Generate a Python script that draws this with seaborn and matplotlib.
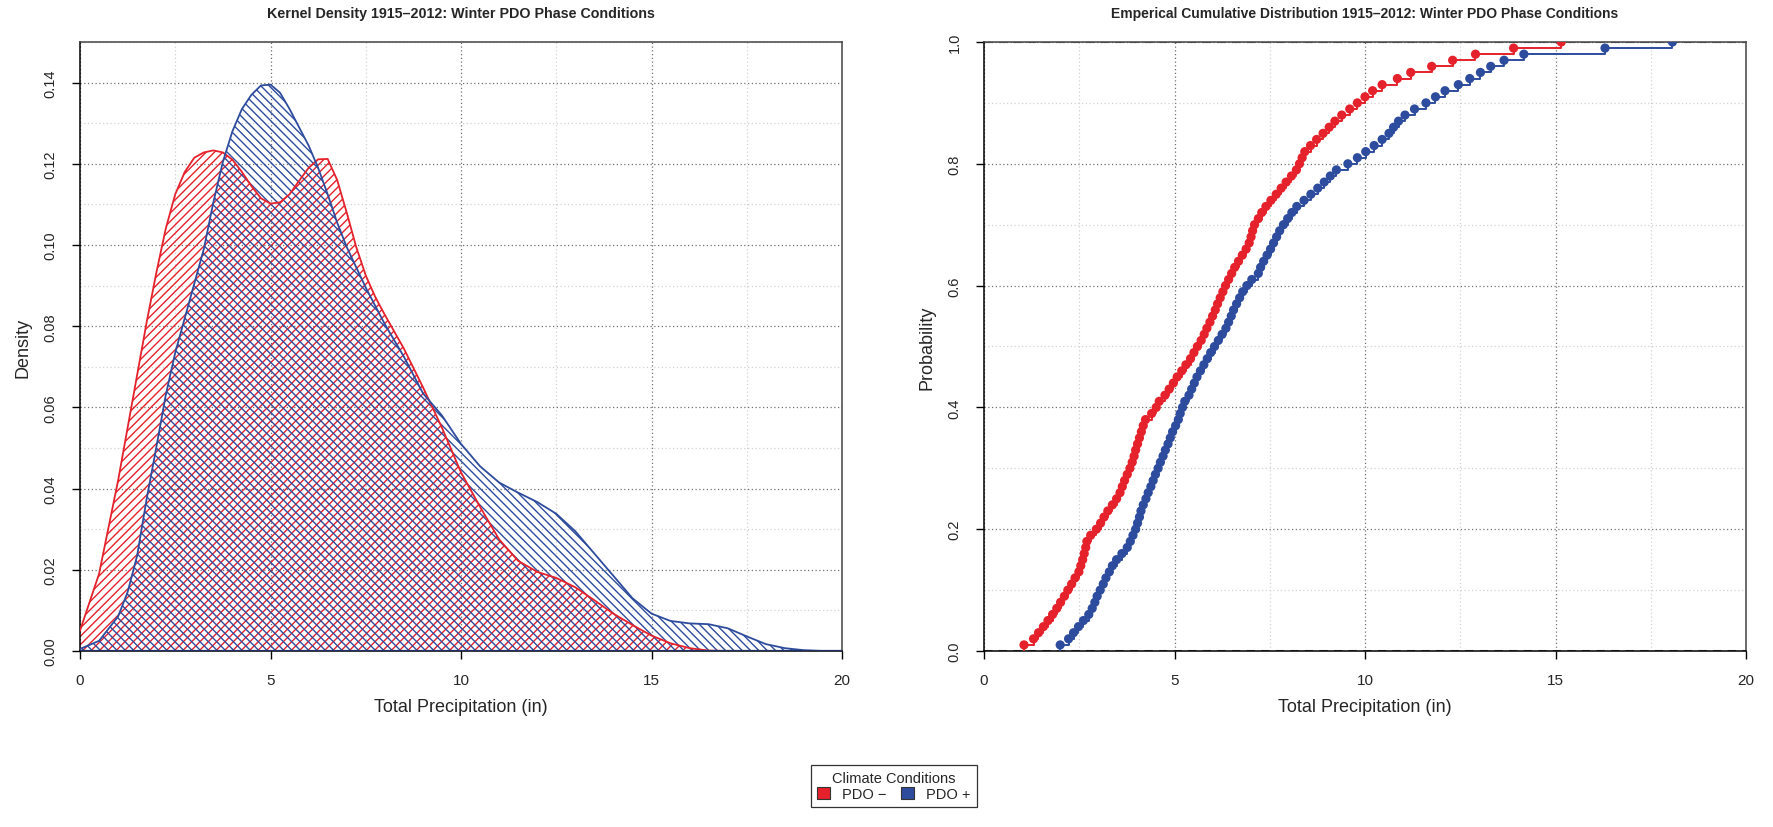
import numpy as np
import pandas as pd
import matplotlib
matplotlib.use("Agg")
import matplotlib.pyplot as plt
from matplotlib.patches import Patch
from matplotlib.ticker import MultipleLocator, FormatStrFormatter
import seaborn as sns

sns.set_style("white")
plt.rcParams["font.family"] = ["Liberation Sans", "DejaVu Sans"]
plt.rcParams["hatch.linewidth"] = 1.0

RED = "#E5212B"
BLUE = "#2E4C9E"

# Kernel density estimates of winter total precipitation (in)
neg_x = [0.0, 0.5, 1.0, 1.25, 1.5, 1.75, 2.0, 2.25, 2.5, 2.75, 3.0, 3.25, 3.5, 3.75,
         4.0, 4.25, 4.5, 4.75, 5.0, 5.25, 5.5, 5.75, 6.0, 6.25, 6.5, 6.75, 7.0, 7.25,
         7.5, 7.75, 8.0, 8.5, 9.0, 9.5, 10.0, 10.5, 11.0, 11.5, 12.0, 12.5, 13.0, 13.5,
         14.0, 14.5, 15.0, 15.5, 16.0, 16.5, 17.0, 18.0, 19.0, 20.0]
neg_density = [0.005, 0.019, 0.042, 0.055, 0.068, 0.081, 0.093, 0.104, 0.1125, 0.118,
               0.1215, 0.1228, 0.1233, 0.1228, 0.121, 0.118, 0.1145, 0.1115, 0.1102,
               0.1105, 0.1125, 0.1158, 0.119, 0.1211, 0.1212, 0.116, 0.108, 0.0995,
               0.0925, 0.0872, 0.0828, 0.0745, 0.065, 0.055, 0.044, 0.0355, 0.0275,
               0.0222, 0.0195, 0.018, 0.0157, 0.0125, 0.0092, 0.0064, 0.0038, 0.0019,
               0.0007, 0.0001, 0.0, 0.0, 0.0, 0.0]

pos_x = [0.0, 0.5, 1.0, 1.25, 1.5, 1.75, 2.0, 2.25, 2.5, 2.75, 3.0, 3.25, 3.5, 3.75,
         4.0, 4.25, 4.5, 4.75, 5.0, 5.25, 5.5, 5.75, 6.0, 6.25, 6.5, 6.75, 7.0, 7.25,
         7.5, 7.75, 8.0, 8.5, 9.0, 9.5, 10.0, 10.5, 11.0, 11.5, 12.0, 12.5, 13.0, 13.5,
         14.0, 14.5, 15.0, 15.5, 16.0, 16.5, 17.0, 17.5, 18.0, 18.5, 19.0, 19.5, 20.0]
pos_density = [0.0005, 0.0025, 0.0085, 0.0145, 0.0235, 0.0375, 0.050, 0.063, 0.0735,
               0.082, 0.0905, 0.099, 0.1105, 0.1205, 0.128, 0.1335, 0.137, 0.1393,
               0.1395, 0.1375, 0.1335, 0.129, 0.1245, 0.119, 0.1125, 0.1055, 0.0995,
               0.0945, 0.0895, 0.085, 0.0805, 0.0725, 0.0635, 0.058, 0.051, 0.0455,
               0.0415, 0.039, 0.0367, 0.0338, 0.0295, 0.024, 0.0185, 0.013, 0.0092,
               0.0074, 0.0068, 0.0066, 0.0056, 0.0036, 0.0017, 0.0007, 0.0002, 0.0, 0.0]

# Winter total precipitation samples (in) for the empirical CDF
neg_precip = [1.05, 1.30, 1.43, 1.56, 1.68, 1.80, 1.91, 2.01, 2.11, 2.20,
              2.30, 2.39, 2.49, 2.54, 2.59, 2.63, 2.67, 2.70, 2.80, 2.95,
              3.06, 3.15, 3.25, 3.37, 3.48, 3.57, 3.63, 3.69, 3.76, 3.83,
              3.89, 3.94, 3.98, 4.03, 4.08, 4.13, 4.18, 4.24, 4.40, 4.52,
              4.60, 4.75, 4.86, 4.97, 5.07, 5.19, 5.30, 5.42, 5.51, 5.60,
              5.70, 5.78, 5.85, 5.93, 6.00, 6.07, 6.13, 6.20, 6.27, 6.34,
              6.42, 6.50, 6.58, 6.68, 6.78, 6.88, 6.96, 7.01, 7.05, 7.10,
              7.20, 7.29, 7.40, 7.53, 7.67, 7.80, 7.93, 8.07, 8.20, 8.28,
              8.35, 8.42, 8.57, 8.73, 8.90, 9.06, 9.21, 9.39, 9.60, 9.80,
              10.00, 10.20, 10.45, 10.85, 11.20, 11.75, 12.30, 12.90, 13.90, 15.15]
pos_precip = [2.00, 2.22, 2.35, 2.48, 2.61, 2.75, 2.84, 2.91, 2.97, 3.05,
              3.13, 3.20, 3.29, 3.37, 3.48, 3.62, 3.76, 3.84, 3.91, 3.98,
              4.03, 4.08, 4.12, 4.18, 4.25, 4.31, 4.38, 4.44, 4.50, 4.57,
              4.63, 4.70, 4.76, 4.83, 4.89, 4.95, 5.03, 5.10, 5.15, 5.21,
              5.27, 5.38, 5.45, 5.52, 5.59, 5.68, 5.77, 5.86, 5.95, 6.05,
              6.15, 6.25, 6.35, 6.42, 6.49, 6.55, 6.63, 6.71, 6.79, 6.90,
              7.03, 7.20, 7.26, 7.34, 7.43, 7.52, 7.60, 7.68, 7.76, 7.86,
              7.97, 8.08, 8.21, 8.40, 8.58, 8.76, 8.93, 9.09, 9.25, 9.55,
              9.80, 10.02, 10.24, 10.45, 10.63, 10.75, 10.88, 11.05, 11.30, 11.60,
              11.85, 12.10, 12.45, 12.75, 13.03, 13.30, 13.65, 14.17, 16.30, 18.07]

labels = ["PDO \u2212", "PDO +"]
colors = [RED, BLUE]

fig = plt.figure(figsize=(17.73, 8.28), dpi=100)
ax1 = fig.add_axes([80 / 1773, 1 - 652 / 828, 762 / 1773, 609 / 828])
ax2 = fig.add_axes([984 / 1773, 1 - 652 / 828, 762 / 1773, 609 / 828])


def style_axes(ax, ymaj, yfmt):
    ax.xaxis.set_major_locator(MultipleLocator(5))
    ax.xaxis.set_minor_locator(MultipleLocator(2.5))
    ax.yaxis.set_major_locator(MultipleLocator(ymaj))
    ax.yaxis.set_minor_locator(MultipleLocator(ymaj / 2))
    ax.yaxis.set_major_formatter(FormatStrFormatter(yfmt))
    ax.grid(which="major", color="#707070", linestyle=(0, (1, 2)), linewidth=0.9)
    ax.grid(which="minor", color="#d2d2d2", linestyle=(0, (1, 2)), linewidth=0.9)
    ax.set_axisbelow(True)
    ax.tick_params(which="minor", length=0)
    ax.tick_params(which="major", direction="out", length=6, width=1,
                   color="black", labelsize=11, pad=10, bottom=True, left=True)
    ax.tick_params(axis="y", labelrotation=90, pad=10, labelsize=10.5)
    for s in ax.spines.values():
        s.set_visible(True)
        s.set_color("#444444")
        s.set_linewidth(1.1)
    ax.spines["left"].set_color("black")
    ax.spines["bottom"].set_color("black")


# Left: hatched kernel densities
kde_sets = [(neg_x, neg_density, "////"), (pos_x, pos_density, "\\\\\\\\")]
for (xs, ds, hatch), c in zip(kde_sets, colors):
    ax1.fill_between(xs, 0, ds, facecolor="none", edgecolor=c, hatch=hatch,
                     linewidth=0, zorder=2)
for (xs, ds, _), c in zip(kde_sets, colors):
    sns.lineplot(x=xs, y=ds, ax=ax1, color=c, linewidth=1.3, zorder=3, legend=False)
ax1.axhline(0, color="#1f2f6a", linewidth=1.6, zorder=4)
ax1.set_xlim(0, 20)
ax1.set_ylim(0, 0.15)
style_axes(ax1, 0.02, "%.2f")
ax1.set_xlabel("Total Precipitation (in)", fontsize=13)
ax1.set_ylabel("Density", fontsize=13)
ax1.xaxis.set_label_coords(0.5, -0.077)
ax1.yaxis.set_label_coords(-0.063, 0.5)
ax1.text(0.5, 1.048, "Kernel Density 1915\u20132012: Winter PDO Phase Conditions",
         transform=ax1.transAxes, ha="center", va="center", fontsize=10.3,
         fontweight="bold")

# Right: empirical cumulative distributions
for vals, c in zip([neg_precip, pos_precip], colors):
    xs = np.sort(np.asarray(vals))
    ps = np.arange(1, len(xs) + 1) / len(xs)
    sns.ecdfplot(x=xs, ax=ax2, color=c, linewidth=1.4, zorder=3)
    sns.scatterplot(x=xs, y=ps, ax=ax2, color=c, s=44, edgecolor="none",
                    zorder=4, legend=False)
for h in (0, 1):
    ax2.axhline(h, color="#606060", linestyle=(0, (4, 3)), linewidth=1.5, zorder=2)
ax2.set_xlim(0, 20)
ax2.set_ylim(0, 1)
style_axes(ax2, 0.2, "%.1f")
ax2.set_xlabel("Total Precipitation (in)", fontsize=13)
ax2.set_ylabel("Probability", fontsize=13)
ax2.xaxis.set_label_coords(0.5, -0.077)
ax2.yaxis.set_label_coords(-0.063, 0.5)
ax2.text(0.5, 1.048,
         "Emperical Cumulative Distribution 1915\u20132012: Winter PDO Phase Conditions",
         transform=ax2.transAxes, ha="center", va="center", fontsize=10,
         fontweight="bold")

for ax in (ax1, ax2):
    plt.setp(ax.get_yticklabels(), va="center")

handles = [Patch(facecolor=c, edgecolor="#333333", linewidth=0.8, label=l)
           for c, l in zip(colors, labels)]
leg = fig.legend(handles=handles, title="Climate Conditions", loc="center",
                 bbox_to_anchor=(0.504, 0.0495), ncol=2, frameon=True,
                 fancybox=False, edgecolor="black", fontsize=10.5,
                 title_fontsize=10.5, handlelength=0.9, handleheight=0.9,
                 columnspacing=1.0, handletextpad=0.8, borderpad=0.45,
                 labelspacing=0.1)
leg.get_frame().set_linewidth(0.9)

fig.savefig("out.png", dpi=100, facecolor="white")
